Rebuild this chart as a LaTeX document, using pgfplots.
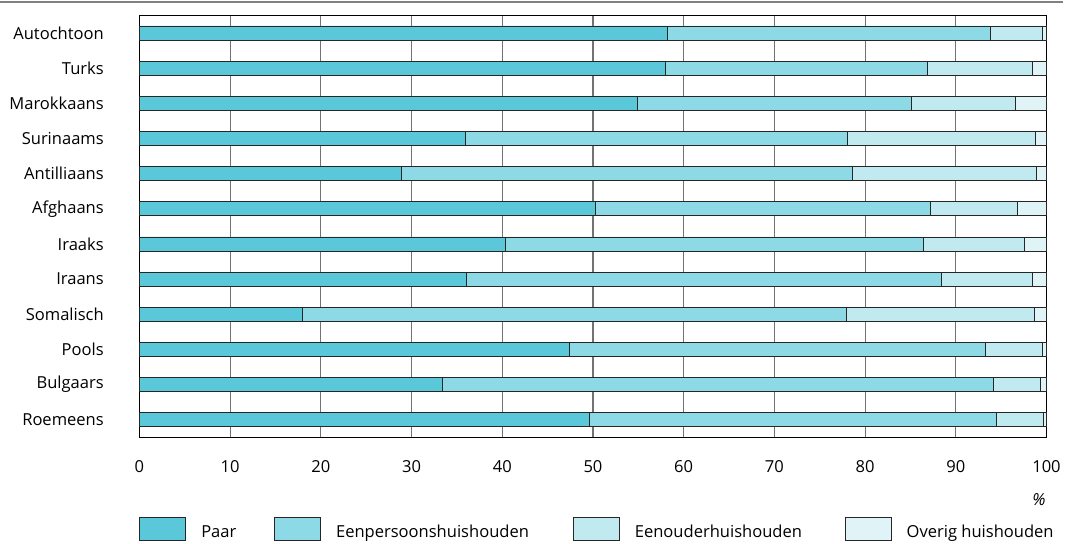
\documentclass[border=0pt]{standalone}
\usepackage{fontspec}
\setmainfont{Open Sans}
\usepackage{pgfplots}
\usepackage{pgfplotstable}
\pgfplotsset{compat=1.18}
\definecolor{cA}{RGB}{90,200,216}
\definecolor{cB}{RGB}{142,217,230}
\definecolor{cC}{RGB}{192,234,240}
\definecolor{cD}{RGB}{224,244,247}
\pgfplotstableread{
idx paar eenp eenoud overig
0  58.2 35.6  5.8 0.4
1  58.0 28.9 11.6 1.5
2  54.9 30.2 11.5 3.4
3  35.9 42.2 20.7 1.2
4  28.9 49.7 20.3 1.1
5  50.3 36.9  9.6 3.2
6  40.3 46.1 11.2 2.4
7  36.0 52.4 10.1 1.5
8  18.0 59.9 20.8 1.3
9  47.4 45.9  6.2 0.5
10 33.4 60.8  5.1 0.7
11 49.6 44.9  5.2 0.3
}\data
\begin{document}
\begin{tikzpicture}
\useasboundingbox (0,0) rectangle (799.5pt,-407.25pt);
\draw[line width=1.5pt, black!50] (0,-1.2pt) -- (797pt,-1.2pt);
\begin{axis}[
  at={(104.6pt,-11.5pt)}, anchor=north west,
  scale only axis, width=680.25pt, height=316.5pt,
  clip=false,
  xbar stacked, bar width=10.5pt,
  xmin=0, xmax=100, ymin=-0.5, ymax=11.5, y dir=reverse,
  xtick={0,10,...,100}, ytick={0,...,11},
  yticklabels={Autochtoon,Turks,Marokkaans,Surinaams,Antilliaans,Afghaans,Iraaks,Iraans,Somalisch,Pools,Bulgaars,Roemeens},
  major tick length=0pt,
  xmajorgrids, grid style={black!55, line width=0.8pt},
  axis line style={black, line width=0.8pt},
  tick label style={font=\fontsize{12.4}{14}\selectfont},
  xticklabel style={anchor=center, yshift=-21.75pt},
  yticklabel style={anchor=east, inner sep=0pt, xshift=-26.6pt},
  /pgf/number format/assume math mode=true,
  legend columns=4,
  legend cell align=left,
  legend style={at={(axis description cs:0,-0.189)}, anchor=north west, draw=none, fill=none,
    inner sep=0pt, outer sep=0pt, column sep=0pt,
    font=\fontsize{12.4}{14}\selectfont,
    nodes={inner sep=0pt}},
  legend image code/.code={\draw[#1, line width=0.6pt] (0pt,-6pt) rectangle (34.5pt,11.25pt); \path (45.75pt,0pt);},
]
\addplot[fill=cA, draw=black!85, line width=0.6pt] table[x=paar, y=idx] {\data};
\addplot[fill=cB, draw=black!85, line width=0.6pt] table[x=eenp, y=idx] {\data};
\addplot[fill=cC, draw=black!85, line width=0.6pt] table[x=eenoud, y=idx] {\data};
\addplot[fill=cD, draw=black!85, line width=0.6pt] table[x=overig, y=idx] {\data};
\addlegendentry{\makebox[54.75pt][l]{Paar}}
\addlegendentry{\makebox[177.75pt][l]{Eenpersoonshuishouden}}
\addlegendentry{\makebox[157.5pt][l]{Eenouderhuishouden}}
\addlegendentry{Overig huishouden}
\node[anchor=center, font=\fontsize{12.4}{14}\selectfont] at (axis description cs:0.9917,-0.1486) {\textit{\%}};
\end{axis}
\end{tikzpicture}
\end{document}
